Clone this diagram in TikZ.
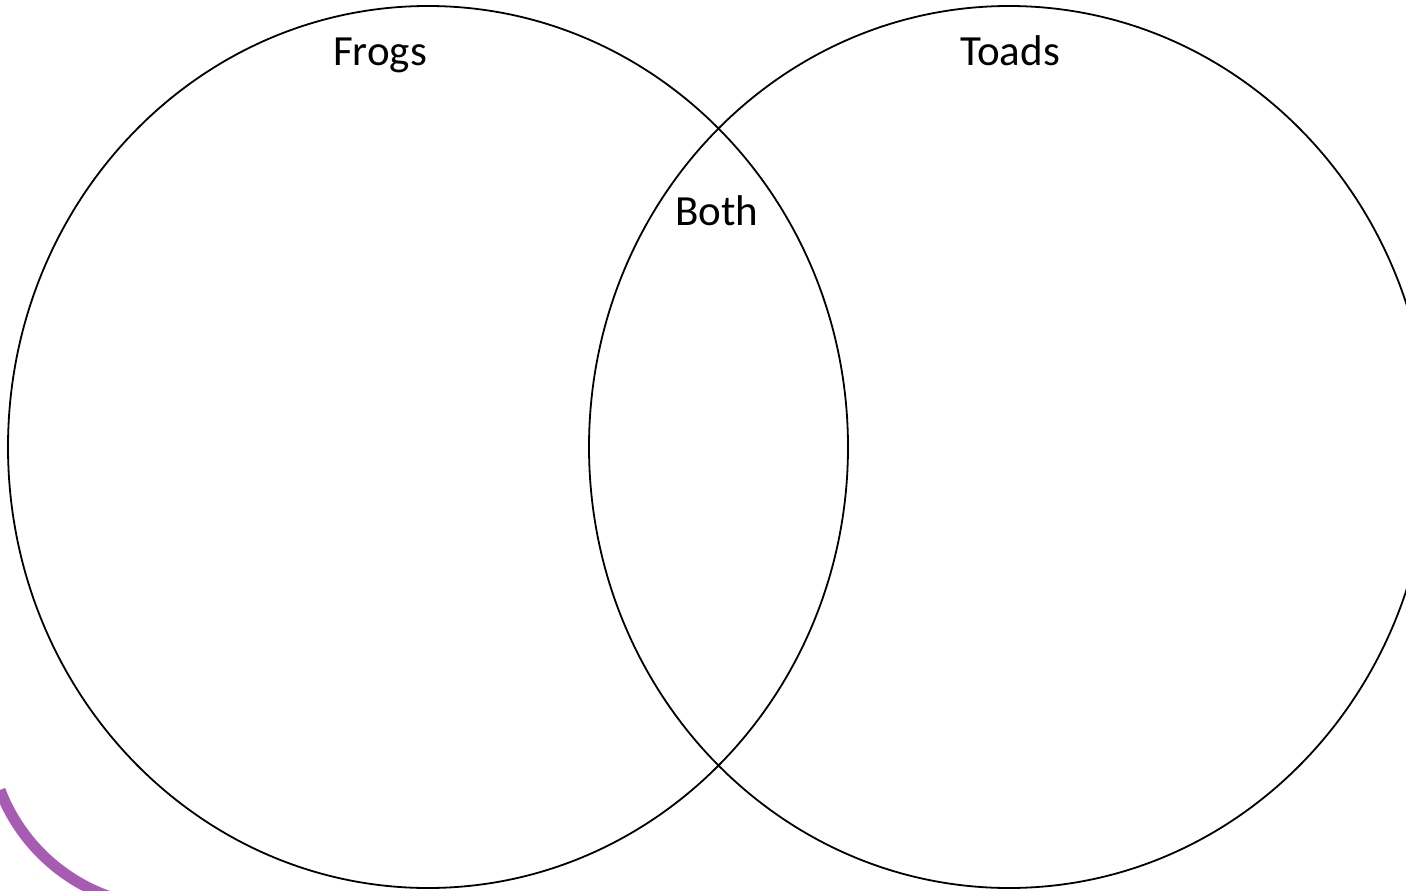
\documentclass[tikz,border=0pt]{standalone}
\usepackage{fontspec}
\setmainfont{Carlito}
\definecolor{arcpurple}{HTML}{A75BB3}
\begin{document}
\begin{tikzpicture}[x=1pt,y=-1pt,
  setline/.style={draw=black,line width=1.8pt},
  lbl/.style={anchor=base,inner sep=0pt,font=\fontsize{43}{50}\selectfont}]
\useasboundingbox (0,0) rectangle (1406,891);
\begin{scope}
\clip (0,0) rectangle (1406,891);
\coordinate (arcstart) at (0,790);
\draw[arcpurple,line width=11pt] (arcstart) arc[start angle=159.1, end angle=90, radius=182];
\draw[setline] (428,447) ellipse [x radius=420, y radius=441];
\draw[setline] (1009,447) ellipse [x radius=420, y radius=441];
\end{scope}
\node[lbl] (frogs) at (380,66) {Frogs};
\node[lbl] (toads) at (1010,66) {Toads};
\node[lbl] (both) at (717,225) {Both};
\end{tikzpicture}
\end{document}
